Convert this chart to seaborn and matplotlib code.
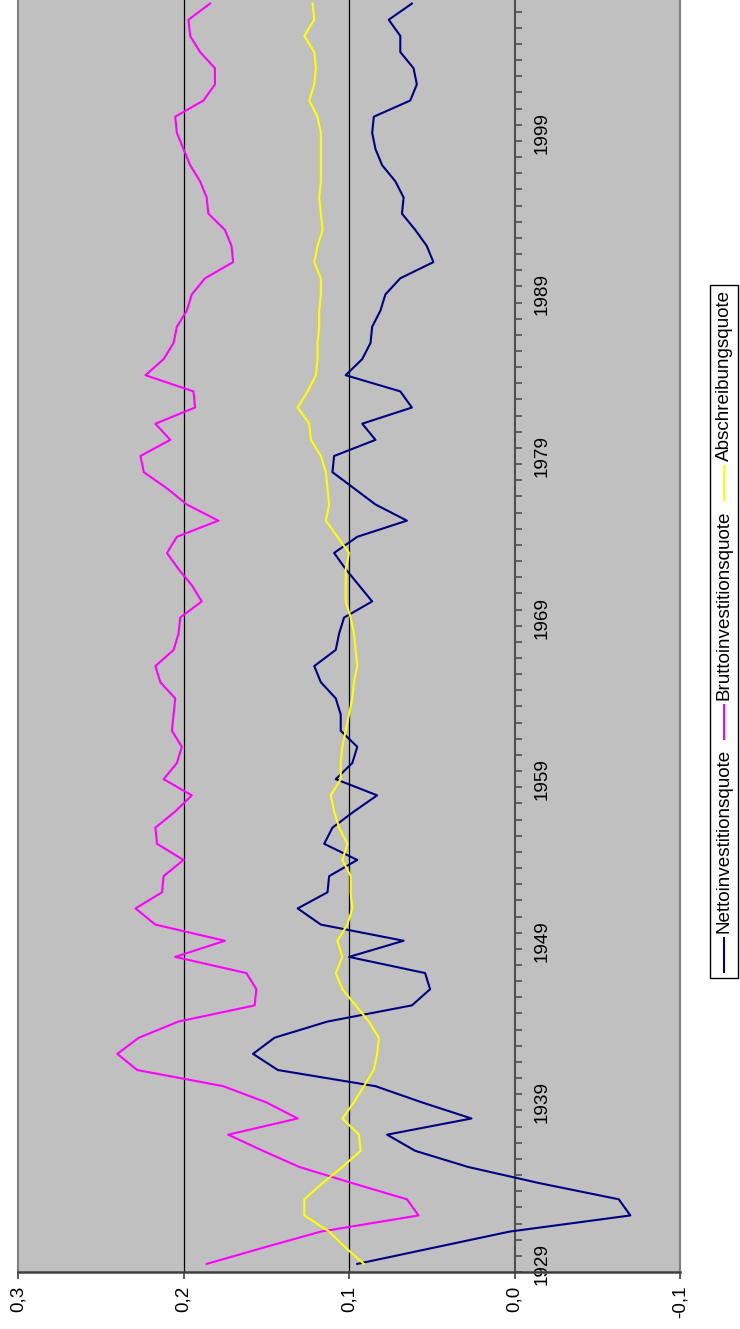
import matplotlib
matplotlib.use("Agg")
import matplotlib.pyplot as plt
from matplotlib.lines import Line2D
from matplotlib.patches import Rectangle
from matplotlib.ticker import FixedLocator
import seaborn as sns
import pandas as pd
import numpy as np

# Daten
jahre = list(range(1929, 2008))

netto = [0.095, 0.049, 0.003, -0.070, -0.063, -0.015, 0.028, 0.060, 0.077, 0.026,
         0.056, 0.084, 0.143, 0.158, 0.145, 0.113, 0.062, 0.051, 0.054, 0.100,
         0.067, 0.117, 0.131, 0.113, 0.112, 0.095, 0.115, 0.110, 0.097, 0.083,
         0.108, 0.098, 0.095, 0.105, 0.105, 0.108, 0.117, 0.121, 0.108, 0.106,
         0.103, 0.086, 0.094, 0.102, 0.109, 0.095, 0.065, 0.084, 0.097, 0.110,
         0.109, 0.084, 0.092, 0.062, 0.069, 0.102, 0.092, 0.087, 0.086, 0.081,
         0.078, 0.069, 0.049, 0.053, 0.060, 0.068, 0.067, 0.072, 0.080, 0.084,
         0.086, 0.085, 0.063, 0.059, 0.061, 0.069, 0.069, 0.076, 0.062]

brutto = [0.186, 0.152, 0.117, 0.058, 0.065, 0.098, 0.130, 0.152, 0.173, 0.131,
          0.150, 0.176, 0.228, 0.240, 0.227, 0.203, 0.157, 0.156, 0.162, 0.205,
          0.175, 0.217, 0.229, 0.213, 0.212, 0.200, 0.216, 0.217, 0.205, 0.195,
          0.212, 0.204, 0.201, 0.207, 0.206, 0.205, 0.214, 0.217, 0.206, 0.203,
          0.202, 0.189, 0.195, 0.203, 0.210, 0.204, 0.179, 0.198, 0.210, 0.224,
          0.226, 0.208, 0.217, 0.193, 0.194, 0.223, 0.212, 0.206, 0.204, 0.198,
          0.195, 0.187, 0.170, 0.171, 0.175, 0.185, 0.186, 0.190, 0.196, 0.200,
          0.204, 0.205, 0.188, 0.181, 0.181, 0.190, 0.196, 0.197, 0.184]

abschreibung = [0.091, 0.102, 0.112, 0.127, 0.127, 0.116, 0.104, 0.093, 0.094, 0.104,
                0.097, 0.091, 0.085, 0.083, 0.082, 0.088, 0.096, 0.104, 0.108, 0.104,
                0.107, 0.101, 0.098, 0.099, 0.099, 0.104, 0.101, 0.106, 0.109, 0.111,
                0.105, 0.105, 0.104, 0.102, 0.100, 0.098, 0.097, 0.095, 0.096, 0.097,
                0.099, 0.102, 0.102, 0.102, 0.100, 0.107, 0.114, 0.112, 0.113, 0.114,
                0.117, 0.123, 0.124, 0.131, 0.125, 0.120, 0.119, 0.119, 0.118, 0.118,
                0.117, 0.117, 0.121, 0.119, 0.116, 0.117, 0.118, 0.117, 0.117, 0.117,
                0.117, 0.119, 0.124, 0.121, 0.120, 0.121, 0.127, 0.121, 0.122]

reihen = ["Nettoinvestitionsquote", "Bruttoinvestitionsquote", "Abschreibungsquote"]
farben = ["#000080", "#FF00FF", "#FFFF00"]

wert_ticks = [0.3, 0.2, 0.1, 0.0, -0.1]
wert_labels = ["0,3", "0,2", "0,1", "0,0", "-0,1"]
jahr_ticks = [1929, 1939, 1949, 1959, 1969, 1979, 1989, 1999]

df = pd.DataFrame({
    "Jahr": jahre * 3,
    "Wert": netto + brutto + abschreibung,
    "Reihe": [r for r in reihen for _ in jahre],
})

plt.rcParams['font.family'] = ['Liberation Sans', 'DejaVu Sans']
plt.rcParams['font.size'] = 13.6

W, H = 740, 1329
fig = plt.figure(figsize=(W / 100, H / 100), dpi=100)
fig.patch.set_facecolor("white")

# Diagramm liegt gedreht: Werte waagrecht (invertiert), Jahre senkrecht
ax = fig.add_axes([18 / W, 57 / H, 662 / W, 1276.5 / H])
ax.set_facecolor("#C0C0C0")

for g in [0.2, 0.1]:
    ax.axvline(g, color="black", lw=0.9, zorder=1)
ax.axvline(-0.1, color="#808080", lw=1.5, clip_on=False, zorder=1)

sns.lineplot(data=df, x="Wert", y="Jahr", hue="Reihe", palette=farben,
             hue_order=reihen, orient="y", estimator=None, linewidth=1.5,
             legend=False, ax=ax, zorder=3)

ax.set_xlim(0.3, -0.1)
ax.set_ylim(1928.5, 2007.5)
ax.set_xlabel("")
ax.set_ylabel("")

ax.spines["top"].set_visible(False)
ax.spines["left"].set_color("#808080")
ax.spines["left"].set_linewidth(1.5)
ax.spines["bottom"].set_color("#404040")
ax.spines["bottom"].set_linewidth(1.8)
ax.spines["right"].set_position(("data", 0))
ax.spines["right"].set_color("#505050")
ax.spines["right"].set_linewidth(1.5)
ax.spines["right"].set_zorder(2)

ax.set_xticks(wert_ticks)
ax.set_xticklabels(wert_labels, rotation=90)
ax.tick_params(axis="x", direction="out", length=5, width=1.2, color="#404040", pad=5)

ax.yaxis.tick_right()
ax.set_yticks(jahr_ticks)
ax.set_yticklabels([str(j) for j in jahr_ticks], rotation=90, va="center")
ax.yaxis.set_minor_locator(FixedLocator(np.arange(1928.5, 2008, 1.0)))
ax.tick_params(axis="y", which="major", length=0, pad=14)
ax.tick_params(axis="y", which="minor", direction="out", length=5, width=1.2, color="#505050")
ax.tick_params(axis="y", which="both", left=False)

# Legende (gedreht, von unten nach oben)
renderer = fig.canvas.get_renderer()
x_mitte = 724
y = 972
for name, farbe in zip(reihen, farben):
    fig.add_artist(Line2D([x_mitte / W, x_mitte / W], [1 - y / H, 1 - (y - 34) / H],
                          color=farbe, lw=1.5, transform=fig.transFigure))
    y -= 39
    t = fig.text(x_mitte / W, 1 - y / H, name, rotation=90, ha="center", va="bottom")
    bb = t.get_window_extent(renderer)
    y = H - bb.y1 - 10
oben = y + 10 - 5
fig.add_artist(Rectangle((710 / W, 1 - 978 / H), 28 / W, (978 - oben) / H,
                         transform=fig.transFigure, facecolor="white",
                         edgecolor="black", lw=1.0, zorder=0))

fig.savefig("out.png", dpi=100)
